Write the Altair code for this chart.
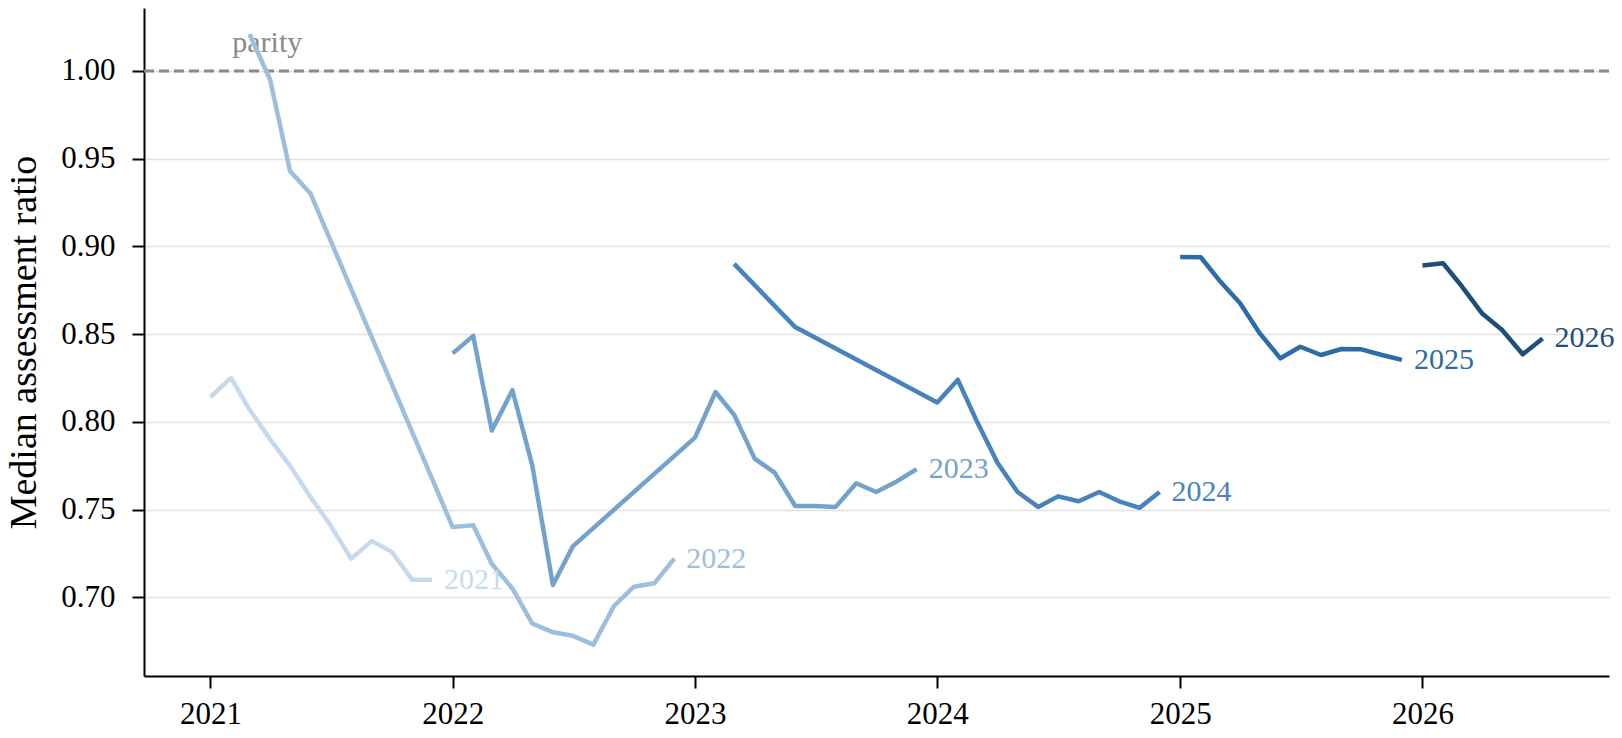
import altair as alt
import pandas as pd

# ---------------- data ----------------
series_names = ["2021", "2022", "2023", "2024", "2025", "2026"]
series_colors = ["#c6daec", "#9dbfdd", "#73a3cc", "#4884bb", "#2d6ca6", "#1f4e7b"]

s2021_dates = ["2021-01", "2021-02", "2021-03", "2021-04", "2021-05", "2021-06",
               "2021-07", "2021-08", "2021-09", "2021-10", "2021-11", "2021-12"]
s2021_vals = [0.814, 0.825, 0.807, 0.790, 0.775, 0.757,
              0.741, 0.722, 0.732, 0.726, 0.710, 0.710]

s2022_dates = ["2021-03", "2021-04", "2021-05", "2021-06",
               "2022-01", "2022-02", "2022-03", "2022-04", "2022-05", "2022-06",
               "2022-07", "2022-08", "2022-09", "2022-10", "2022-11", "2022-12"]
s2022_vals = [1.021, 0.995, 0.943, 0.930,
              0.740, 0.741, 0.719, 0.705, 0.685, 0.680,
              0.678, 0.673, 0.695, 0.706, 0.708, 0.722]

s2023_dates = ["2022-01", "2022-02", "2022-03", "2022-04", "2022-05", "2022-06", "2022-07",
               "2023-01", "2023-02", "2023-03", "2023-04", "2023-05", "2023-06",
               "2023-07", "2023-08", "2023-09", "2023-10", "2023-11", "2023-12"]
s2023_vals = [0.839, 0.849, 0.795, 0.818, 0.775, 0.707, 0.729,
              0.791, 0.817, 0.804, 0.779, 0.771, 0.752,
              0.752, 0.7515, 0.765, 0.760, 0.766, 0.773]

s2024_dates = ["2023-03", "2023-06",
               "2024-01", "2024-02", "2024-03", "2024-04", "2024-05", "2024-06",
               "2024-07", "2024-08", "2024-09", "2024-10", "2024-11", "2024-12"]
s2024_vals = [0.890, 0.854,
              0.811, 0.824, 0.800, 0.7765, 0.760, 0.7515,
              0.7575, 0.7547, 0.760, 0.7547, 0.751, 0.760]

s2025_dates = ["2025-01", "2025-02", "2025-03", "2025-04", "2025-05", "2025-06",
               "2025-07", "2025-08", "2025-09", "2025-10", "2025-11", "2025-12"]
s2025_vals = [0.894, 0.8938, 0.8806, 0.8677, 0.8504, 0.8362,
              0.8428, 0.8381, 0.8415, 0.8413, 0.8381, 0.8353]

s2026_dates = ["2026-01", "2026-02", "2026-03", "2026-04", "2026-05", "2026-06", "2026-07"]
s2026_vals = [0.8891, 0.8904, 0.8774, 0.8617, 0.8523, 0.8385, 0.8475]

y_ticks = [0.70, 0.75, 0.80, 0.85, 0.90, 0.95, 1.00]
x_tick_years = [2021, 2022, 2023, 2024, 2025, 2026]
parity_value = 1.0
parity_label = "parity"
parity_label_date = "2021-02-03"
parity_label_value = 1.011

# ---------------- frames ----------------
all_dates = [s2021_dates, s2022_dates, s2023_dates, s2024_dates, s2025_dates, s2026_dates]
all_vals = [s2021_vals, s2022_vals, s2023_vals, s2024_vals, s2025_vals, s2026_vals]

rows = []
last_rows = []
for name, ds, vs in zip(series_names, all_dates, all_vals):
    for d, v in zip(ds, vs):
        rows.append({"series": name, "date": d + "-01T00:00:00", "value": v})
    last_rows.append({"series": name, "date": ds[-1] + "-01T00:00:00", "value": vs[-1]})
df = pd.DataFrame(rows)
df_last = pd.DataFrame(last_rows)
df_parity = pd.DataFrame({"value": [parity_value]})
df_parity_text = pd.DataFrame({"date": [parity_label_date + "T00:00:00"],
                               "value": [parity_label_value],
                               "text": [parity_label]})

FONT = "Liberation Serif"

x_scale = alt.Scale(domain=[alt.DateTime(year=2020, month=9, date=23),
                            alt.DateTime(year=2026, month=10, date=9)])
y_scale = alt.Scale(domain=[0.6551, 1.0359], nice=False, zero=False)
color_scale = alt.Scale(domain=series_names, range=series_colors)

x_enc = alt.X("date:T", scale=x_scale,
              axis=alt.Axis(values=[alt.DateTime(year=y, month=1, date=1) for y in x_tick_years],
                            format="%Y", title=None, grid=False,
                            labelPadding=11, labelFlush=False))
y_enc = alt.Y("value:Q", scale=y_scale,
              axis=alt.Axis(values=y_ticks, format=".2f", title="Median assessment ratio",
                            grid=True, gridColor="#e2e2e2", gridWidth=1.5,
                            labelPadding=17, titleAngle=270, titleX=-109,
                            titleBaseline="alphabetic", titleAlign="center"))

base_rule = alt.Chart(df_parity).mark_rule(
    color="#8a8a8a", strokeWidth=2.8, strokeDash=[10, 5]
).encode(y=alt.Y("value:Q", scale=y_scale))

parity_text = alt.Chart(df_parity_text).mark_text(
    align="left", baseline="alphabetic", font=FONT, fontSize=30, color="#8a8a8a"
).encode(x=alt.X("date:T", scale=x_scale), y=alt.Y("value:Q", scale=y_scale), text="text:N")

lines = alt.Chart(df).mark_line(strokeWidth=4.5, strokeJoin="round").encode(
    x=x_enc, y=y_enc,
    color=alt.Color("series:N", scale=color_scale, legend=None),
    detail="series:N",
    order="date:T",
)

labels = alt.Chart(df_last).mark_text(
    align="left", baseline="middle", dx=12, font=FONT, fontSize=30
).encode(
    x=alt.X("date:T", scale=x_scale),
    y=alt.Y("value:Q", scale=y_scale),
    text="series:N",
    color=alt.Color("series:N", scale=color_scale, legend=None),
)

chart = alt.layer(base_rule, parity_text, lines, labels).properties(
    width=1465, height=668,
    background="#ffffff",
    autosize=alt.AutoSizeParams(type="none"),
    padding={"left": 136, "top": 0, "right": 5, "bottom": 56},
).configure_view(stroke=None).configure_axis(
    labelFont=FONT, labelFontSize=31, labelColor="#000000",
    titleFont=FONT, titleFontSize=38, titleFontWeight="normal", titleColor="#000000",
    domainColor="#000000", domainWidth=2, tickColor="#000000", tickWidth=2, tickSize=12,
)

chart.save("out.html", embed_options={"renderer": "svg", "actions": False})
